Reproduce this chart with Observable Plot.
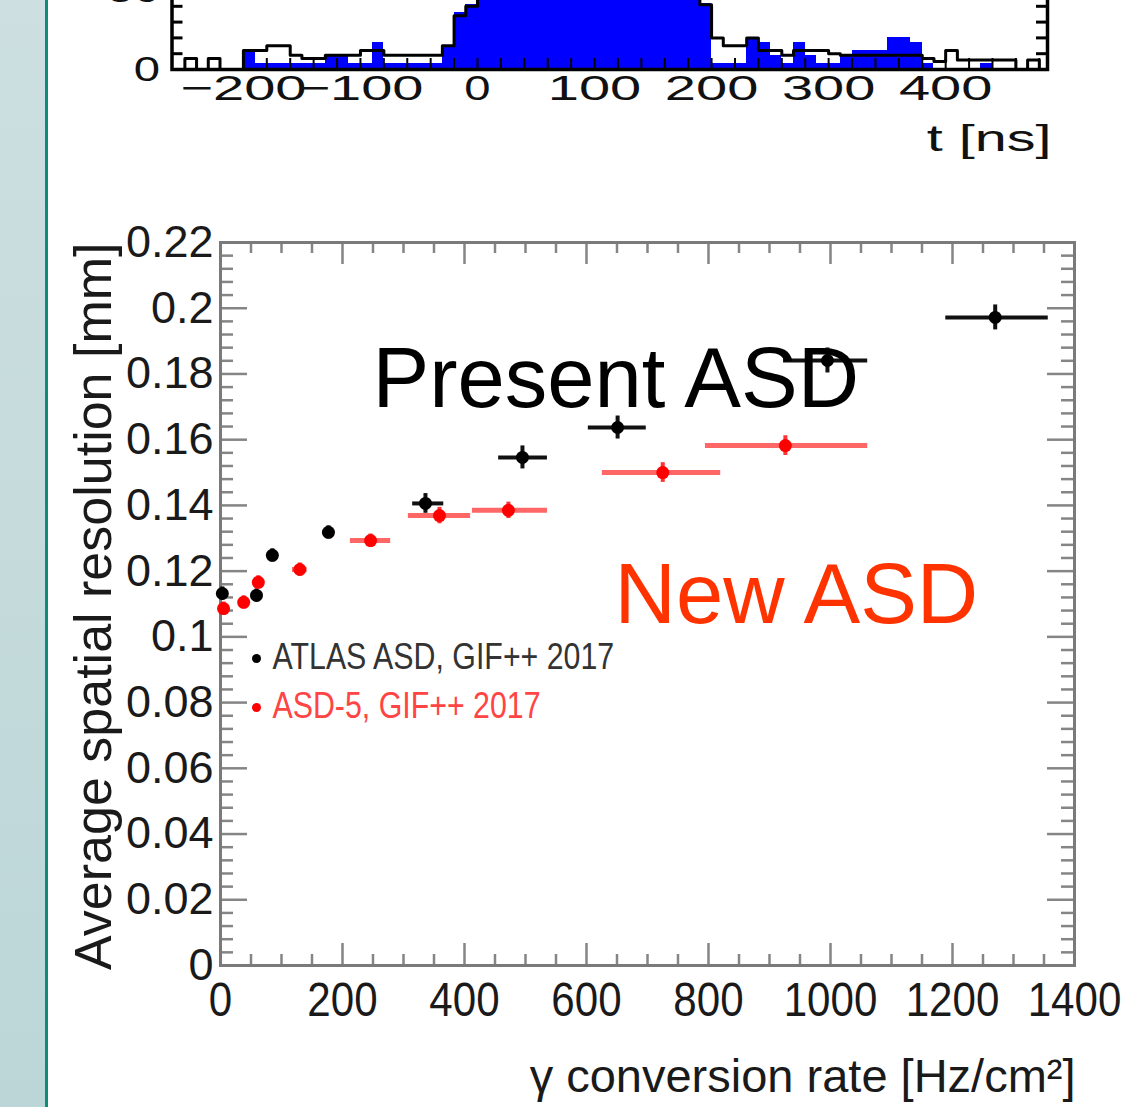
<!DOCTYPE html>
<html><head><meta charset="utf-8">
<script src="https://cdn.jsdelivr.net/npm/d3@7"></script>
<script src="https://cdn.jsdelivr.net/npm/@observablehq/plot@0.6"></script>
<style>
html,body{margin:0;padding:0;background:#fff;}
body{width:1133px;height:1107px;position:relative;overflow:hidden;font-family:"Liberation Sans",Arial,sans-serif;}
#strip{position:absolute;left:0;top:0;width:45px;height:1107px;background:linear-gradient(#cddfe0,#bcd6d7);border-right:3px solid #0d8c78;}
#hist{position:absolute;left:0;top:-100px;}
#main{position:absolute;left:0;top:180px;}
</style></head><body>
<div id="strip"></div><div id="hist"></div><div id="main"></div>
<script>
// ---------- top histogram (drift time) ----------
const histBinStart = [-260,-250,-240,-230,-220,-210,-200,-190,-180,-170,-160,-150,-140,-130,-120,-110,-100,-90,-80,-70,-60,-50,-40,-30,-20,-10,
  0,10,20,30,40,50,60,70,80,90,100,110,120,130,140,150,160,170,180,
  190,200,210,220,230,240,250,260,270,280,290,300,310,320,330,340,350,360,370,380,390,400,410,420,430,440,450,460,470,480];
const histBinWidth = 10;
const histBlack = [0,7,0,7,0,0,12,12,15,15,9,7,7,9,9,9,12,12,9,9,9,9,9,15,34,40,
  180,230,250,260,270,265,270,275,268,272,270,266,262,268,260,255,250,240,200,
  41,20,15,15,20,12,12,9,12,12,12,10,9,9,9,9,9,9,9,7,5,12,6,6,6,6,6,0,6,0];
const histBlue = [0,0,0,0,0,0,12,4,4,4,4,4,4,9,9,4,4,17,4,4,4,4,4,15,36,41,
  185,235,255,265,275,270,275,280,272,276,274,270,266,272,264,259,254,244,205,
  42,4,4,4,20,17,9,4,17,9,4,4,9,12,12,12,20,20,17,4,0,0,0,0,4,0,0,0,0,0];
const histXTicks = [-200,-100,0,100,200,300,400];
const histXTickLabels = ["\u2212200","\u2212100","0","100","200","300","400"];
const histYTicks = [0,50];
const histYTickLabels = ["0","50"];
const histXLabel = "t [ns]";

const histData = histBinStart.map((t,i)=>({t0:t, t1:t+histBinWidth, black:histBlack[i], blue:histBlue[i]}));
const histLine = histData.map(d=>({t:d.t0, v:d.black})).concat([{t:histData[histData.length-1].t1, v:histBlack[histBlack.length-1]}]);

// stretch text horizontally around its anchor (the source panels are non-uniformly scaled)
function stretchText(el, sx){
  let t = el.getAttribute("transform") || "";
  const isPx = v => v !== null && v !== "" && !/em/.test(v);
  const x = el.getAttribute("x"), y = el.getAttribute("y");
  let tx = 0, ty = 0;
  if (isPx(x)) { tx = parseFloat(x) || 0; el.removeAttribute("x"); }
  if (isPx(y)) { ty = parseFloat(y) || 0; el.removeAttribute("y"); }
  if (tx || ty) t = `translate(${tx},${ty}) ` + t;
  el.setAttribute("transform", t + ` scale(${sx},1)`);
}

const hW = 1133, hH = 260, hML = 171.5, hMR = 86, hMT = 90, hMB = 91;
const hPW = hW - hML - hMR, hPH = hH - hMT - hMB;
const hist = Plot.plot({
  width:hW, height:hH, marginLeft:hML, marginRight:hMR, marginTop:hMT, marginBottom:hMB,
  style:{fontFamily:"Liberation Sans, Arial, sans-serif", background:"transparent", overflow:"visible"},
  x:{domain:[-261,487]},
  y:{domain:[0,50]},
  marks:[
    Plot.rectY(histData,{x1:"t0",x2:"t1",y:"blue",fill:"#0000ff",clip:true,shapeRendering:"crispEdges"}),
    Plot.lineY(histLine,{x:"t",y:"v",curve:"step-after",stroke:"black",strokeWidth:3,clip:true}),
    Plot.tickY([10,20,30,40],{y:d=>d,insetRight:hPW-11,stroke:"black",strokeWidth:3}),
    Plot.tickY([10,20,30,40],{y:d=>d,insetLeft:hPW-11,stroke:"black",strokeWidth:3}),
    Plot.tickX(d3.range(-240,481,20),{x:d=>d,insetTop:hPH-11,stroke:"black",strokeWidth:2}),
    Plot.frame({stroke:"black",strokeWidth:3.5}),
    Plot.axisX({ticks:histXTicks,tickFormat:d=>histXTickLabels[histXTicks.indexOf(d)],tickSize:0,tickPadding:6,fontSize:35,fill:"#111",label:null}),
    Plot.axisY({ticks:histYTicks,tickFormat:d=>histYTickLabels[histYTicks.indexOf(d)],tickSize:0,tickPadding:12,fontSize:35,fill:"#111",label:null}),
    Plot.text([histXLabel],{frameAnchor:"bottom-right",dx:4,dy:81,textAnchor:"end",lineAnchor:"bottom",fontSize:36,fill:"#111"})
  ]
});
document.getElementById("hist").appendChild(hist);
hist.querySelectorAll("text").forEach(el=>{
  const s = el.textContent;
  stretchText(el, histYTickLabels.includes(s) ? 1.35 : 1.6);
});

// ---------- main plot: spatial resolution vs rate ----------
const blackX   = [3, 59, 85, 177, 336, 495, 651, 995, 1270];
const blackY   = [0.1132, 0.1126, 0.1248, 0.1318, 0.1406, 0.1546, 0.1637, 0.1841, 0.1972];
const blackXLo = [0, 52, 78, 168, 315, 456, 603, 923, 1189];
const blackXHi = [8, 66, 92, 186, 366, 536, 698, 1061, 1357];
const blackYErr= [0.002, 0.002, 0.002, 0.002, 0.003, 0.0035, 0.0035, 0.0038, 0.0038];

const redX   = [5, 38, 62, 130, 246, 359, 472, 725, 926];
const redY   = [0.1086, 0.1105, 0.1166, 0.1205, 0.1293, 0.1369, 0.1385, 0.1500, 0.1582];
const redXLo = [0, 30, 55, 118, 213, 308, 413, 626, 795];
const redXHi = [10, 46, 70, 142, 279, 410, 536, 820, 1061];
const redYErr= [0.002, 0.002, 0.002, 0.002, 0.002, 0.0025, 0.0025, 0.003, 0.003];

const xMajor = [0,200,400,600,800,1000,1200,1400];
const xTickLabels = ["0","200","400","600","800","1000","1200","1400"];
const yMajor = [0,0.02,0.04,0.06,0.08,0.1,0.12,0.14,0.16,0.18,0.2,0.22];
const yTickLabels = ["0","0.02","0.04","0.06","0.08","0.1","0.12","0.14","0.16","0.18","0.2","0.22"];
const xMinor = d3.range(50,1400,50).filter(d=>d%200!==0);
const yMinor = d3.range(1,55).map(k=>k*0.004).filter(v=>Math.abs(v/0.02-Math.round(v/0.02))>1e-6 && v<0.22);

const legendLabels = ["ATLAS ASD, GIF++ 2017","ASD-5, GIF++ 2017"];
const xLabel = "\u03b3 conversion rate [Hz/cm\u00b2]";
const yLabel = "Average spatial resolution [mm]";
const notes = ["Present ASD","New ASD"];

const mk = (X,Y,Lo,Hi,E)=>X.map((x,i)=>({x, y:Y[i], xlo:Lo[i], xhi:Hi[i], ylo:Y[i]-E[i], yhi:Y[i]+E[i]}));
const black = mk(blackX,blackY,blackXLo,blackXHi,blackYErr);
const red = mk(redX,redY,redXLo,redXHi,redYErr);

const W = 1133, H = 927, ML = 220, MR = 59, MT = 62, MB = 142;
const PW = W-ML-MR, PH = H-MT-MB;
const tickCol = "#858585";
const main = Plot.plot({
  width:W, height:H, marginLeft:ML, marginRight:MR, marginTop:MT, marginBottom:MB,
  style:{fontFamily:"Liberation Sans, Arial, sans-serif", background:"transparent", overflow:"visible"},
  x:{domain:[0,1400]},
  y:{domain:[0,0.22]},
  marks:[
    // inward ticks on all four sides
    Plot.tickX(xMinor,{x:d=>d,insetTop:PH-11,stroke:tickCol,strokeWidth:2.5}),
    Plot.tickX(xMajor,{x:d=>d,insetTop:PH-22,stroke:tickCol,strokeWidth:2.5}),
    Plot.tickX(xMinor,{x:d=>d,insetBottom:PH-11,stroke:tickCol,strokeWidth:2.5}),
    Plot.tickX(xMajor,{x:d=>d,insetBottom:PH-22,stroke:tickCol,strokeWidth:2.5}),
    Plot.tickY(yMinor,{y:d=>d,insetRight:PW-13,stroke:tickCol,strokeWidth:2.5}),
    Plot.tickY(yMajor,{y:d=>d,insetRight:PW-27,stroke:tickCol,strokeWidth:2.5}),
    Plot.tickY(yMinor,{y:d=>d,insetLeft:PW-13,stroke:tickCol,strokeWidth:2.5}),
    Plot.tickY(yMajor,{y:d=>d,insetLeft:PW-27,stroke:tickCol,strokeWidth:2.5}),
    Plot.frame({stroke:"#7a7a7a",strokeWidth:3}),
    Plot.axisX({ticks:xMajor,tickFormat:d=>xTickLabels[xMajor.indexOf(d)],tickSize:0,tickPadding:16,fontSize:49,fill:"#1a1a1a",label:null}),
    Plot.axisY({ticks:yMajor,tickFormat:d=>yTickLabels[yMajor.indexOf(d)],tickSize:0,tickPadding:7,fontSize:45,fill:"#1a1a1a",label:null}),
    // ATLAS ASD
    Plot.ruleY(black,{y:"y",x1:"xlo",x2:"xhi",stroke:"#111",strokeWidth:4}),
    Plot.ruleX(black,{x:"x",y1:"ylo",y2:"yhi",stroke:"#111",strokeWidth:4}),
    Plot.dot(black,{x:"x",y:"y",r:6.5,fill:"black"}),
    // ASD-5
    Plot.ruleY(red,{y:"y",x1:"xlo",x2:"xhi",stroke:"#ff0000",strokeOpacity:0.6,strokeWidth:5}),
    Plot.ruleX(red,{x:"x",y1:"ylo",y2:"yhi",stroke:"#ff0000",strokeOpacity:0.8,strokeWidth:4}),
    Plot.dot(red,{x:"x",y:"y",r:6.5,fill:"#ff0000"}),
    // legend
    Plot.dot([legendLabels[0]],{frameAnchor:"top-left",dx:36,dy:416,r:4.5,fill:"black"}),
    Plot.text([legendLabels[0]],{frameAnchor:"top-left",dx:52,dy:415,textAnchor:"start",lineAnchor:"middle",fontSize:37,fill:"#333"}),
    Plot.dot([legendLabels[1]],{frameAnchor:"top-left",dx:36,dy:465,r:4.5,fill:"#ff0000"}),
    Plot.text([legendLabels[1]],{frameAnchor:"top-left",dx:52,dy:464,textAnchor:"start",lineAnchor:"middle",fontSize:37,fill:"#ff4444"}),
    // annotations
    Plot.text([notes[0]],{frameAnchor:"top-left",dx:152,dy:164,textAnchor:"start",lineAnchor:"bottom",fontSize:85,fill:"black"}),
    Plot.text([notes[1]],{frameAnchor:"top-left",dx:394,dy:380,textAnchor:"start",lineAnchor:"bottom",fontSize:85,fill:"#ff3300"}),
    // axis titles
    Plot.text([yLabel],{frameAnchor:"top-left",dx:-110,dy:0,rotate:-90,textAnchor:"end",lineAnchor:"bottom",fontSize:52,fill:"#1a1a1a"}),
    Plot.text([xLabel],{frameAnchor:"bottom-right",dx:1,dy:126,textAnchor:"end",lineAnchor:"bottom",fontSize:47,fill:"#1a1a1a"})
  ]
});
document.getElementById("main").appendChild(main);
main.querySelectorAll("text").forEach(el=>{
  if (legendLabels.includes(el.textContent)) stretchText(el, 0.82);
});
main.querySelectorAll('g[aria-label="x-axis tick label"] text').forEach(el=>stretchText(el, 0.86));
</script>
</body></html>
